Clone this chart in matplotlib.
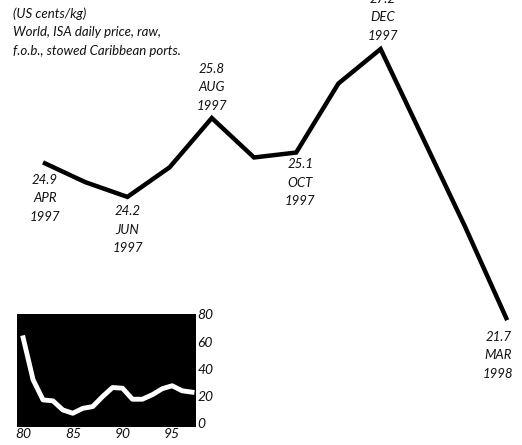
import matplotlib
matplotlib.use('Agg')
import matplotlib.pyplot as plt

## Monthly raw sugar price, Apr 1997 - Mar 1998 (US cents/kg)
months = ['APR', 'MAY', 'JUN', 'JUL', 'AUG', 'SEP', 'OCT', 'NOV', 'DEC', 'JAN', 'FEB', 'MAR']
years = ['1997', '1997', '1997', '1997', '1997', '1997', '1997', '1997', '1997', '1998', '1998', '1998']
price = [24.9, 24.5, 24.2, 24.8, 25.8, 25.0, 25.1, 26.5, 27.2, 25.4, 23.6, 21.7]

## which points get a label
label_idx = [0, 2, 4, 6, 8, 11]

## Annual price 1980-1997 for the small inset
hist_years = [1980, 1981, 1982, 1983, 1984, 1985, 1986, 1987, 1988,
              1989, 1990, 1991, 1992, 1993, 1994, 1995, 1996, 1997]
hist_price = [62.8, 32.0, 17.2, 16.5, 9.8, 7.4, 11.0, 12.3, 19.7,
              26.3, 25.8, 17.7, 17.7, 21.0, 25.4, 27.6, 23.9, 22.9]

font = dict(family='Lato', style='italic', color='#111111')

fig = plt.figure(figsize=(5.22, 4.45), dpi=100)

## main line, axes fill whole figure
ax = fig.add_axes([0, 0, 1, 1])
x = list(range(len(months)))
ax.plot(x, price, color='black', lw=3.2, solid_joinstyle='miter', solid_capstyle='butt')
ax.set_xlim(-1.019, 11.351)
ax.set_ylim(19.168, 28.194)
ax.axis('off')

# label offsets in pixels (to middle line of the 3-line label)
offsets = {0: (2, -36), 2: (0, -33), 4: (0, 31), 6: (4, -30), 8: (2, 32), 11: (-9, -35)}
for i in label_idx:
    txt = '%.1f\n%s\n%s' % (price[i], months[i], years[i])
    ax.annotate(txt, (x[i], price[i]), xytext=offsets[i], textcoords='offset pixels',
                ha='center', va='center', fontsize=9.5, linespacing=1.65, **font)

fig.text(13 / 522, 1 - 32 / 445,
         '(US cents/kg)\nWorld, ISA daily price, raw,\nf.o.b., stowed Caribbean ports.',
         ha='left', va='center', fontsize=9.5, linespacing=1.65, **font)

## inset with long-run annual prices
ax2 = fig.add_axes([16.7 / 522, 18 / 445, 179.3 / 522, 113 / 445])
ax2.set_facecolor('black')
ax2.plot(hist_years, hist_price, color='white', lw=3.5, solid_joinstyle='round')
ax2.set_xlim(79.35 + 1900, 97.4 + 1900)
ax2.set_ylim(-2.7, 80.3)
ax2.set_xticks([1980, 1985, 1990, 1995])
ax2.set_xticklabels(['80', '85', '90', '95'], fontsize=10, **font)
ax2.set_yticks([0, 20, 40, 60, 80])
ax2.set_yticklabels(['0', '20', '40', '60', '80'], fontsize=10, **font)
ax2.yaxis.tick_right()
ax2.tick_params(length=0, pad=1)
for s in ax2.spines.values():
    s.set_visible(False)

fig.savefig('out.png', dpi=100)
